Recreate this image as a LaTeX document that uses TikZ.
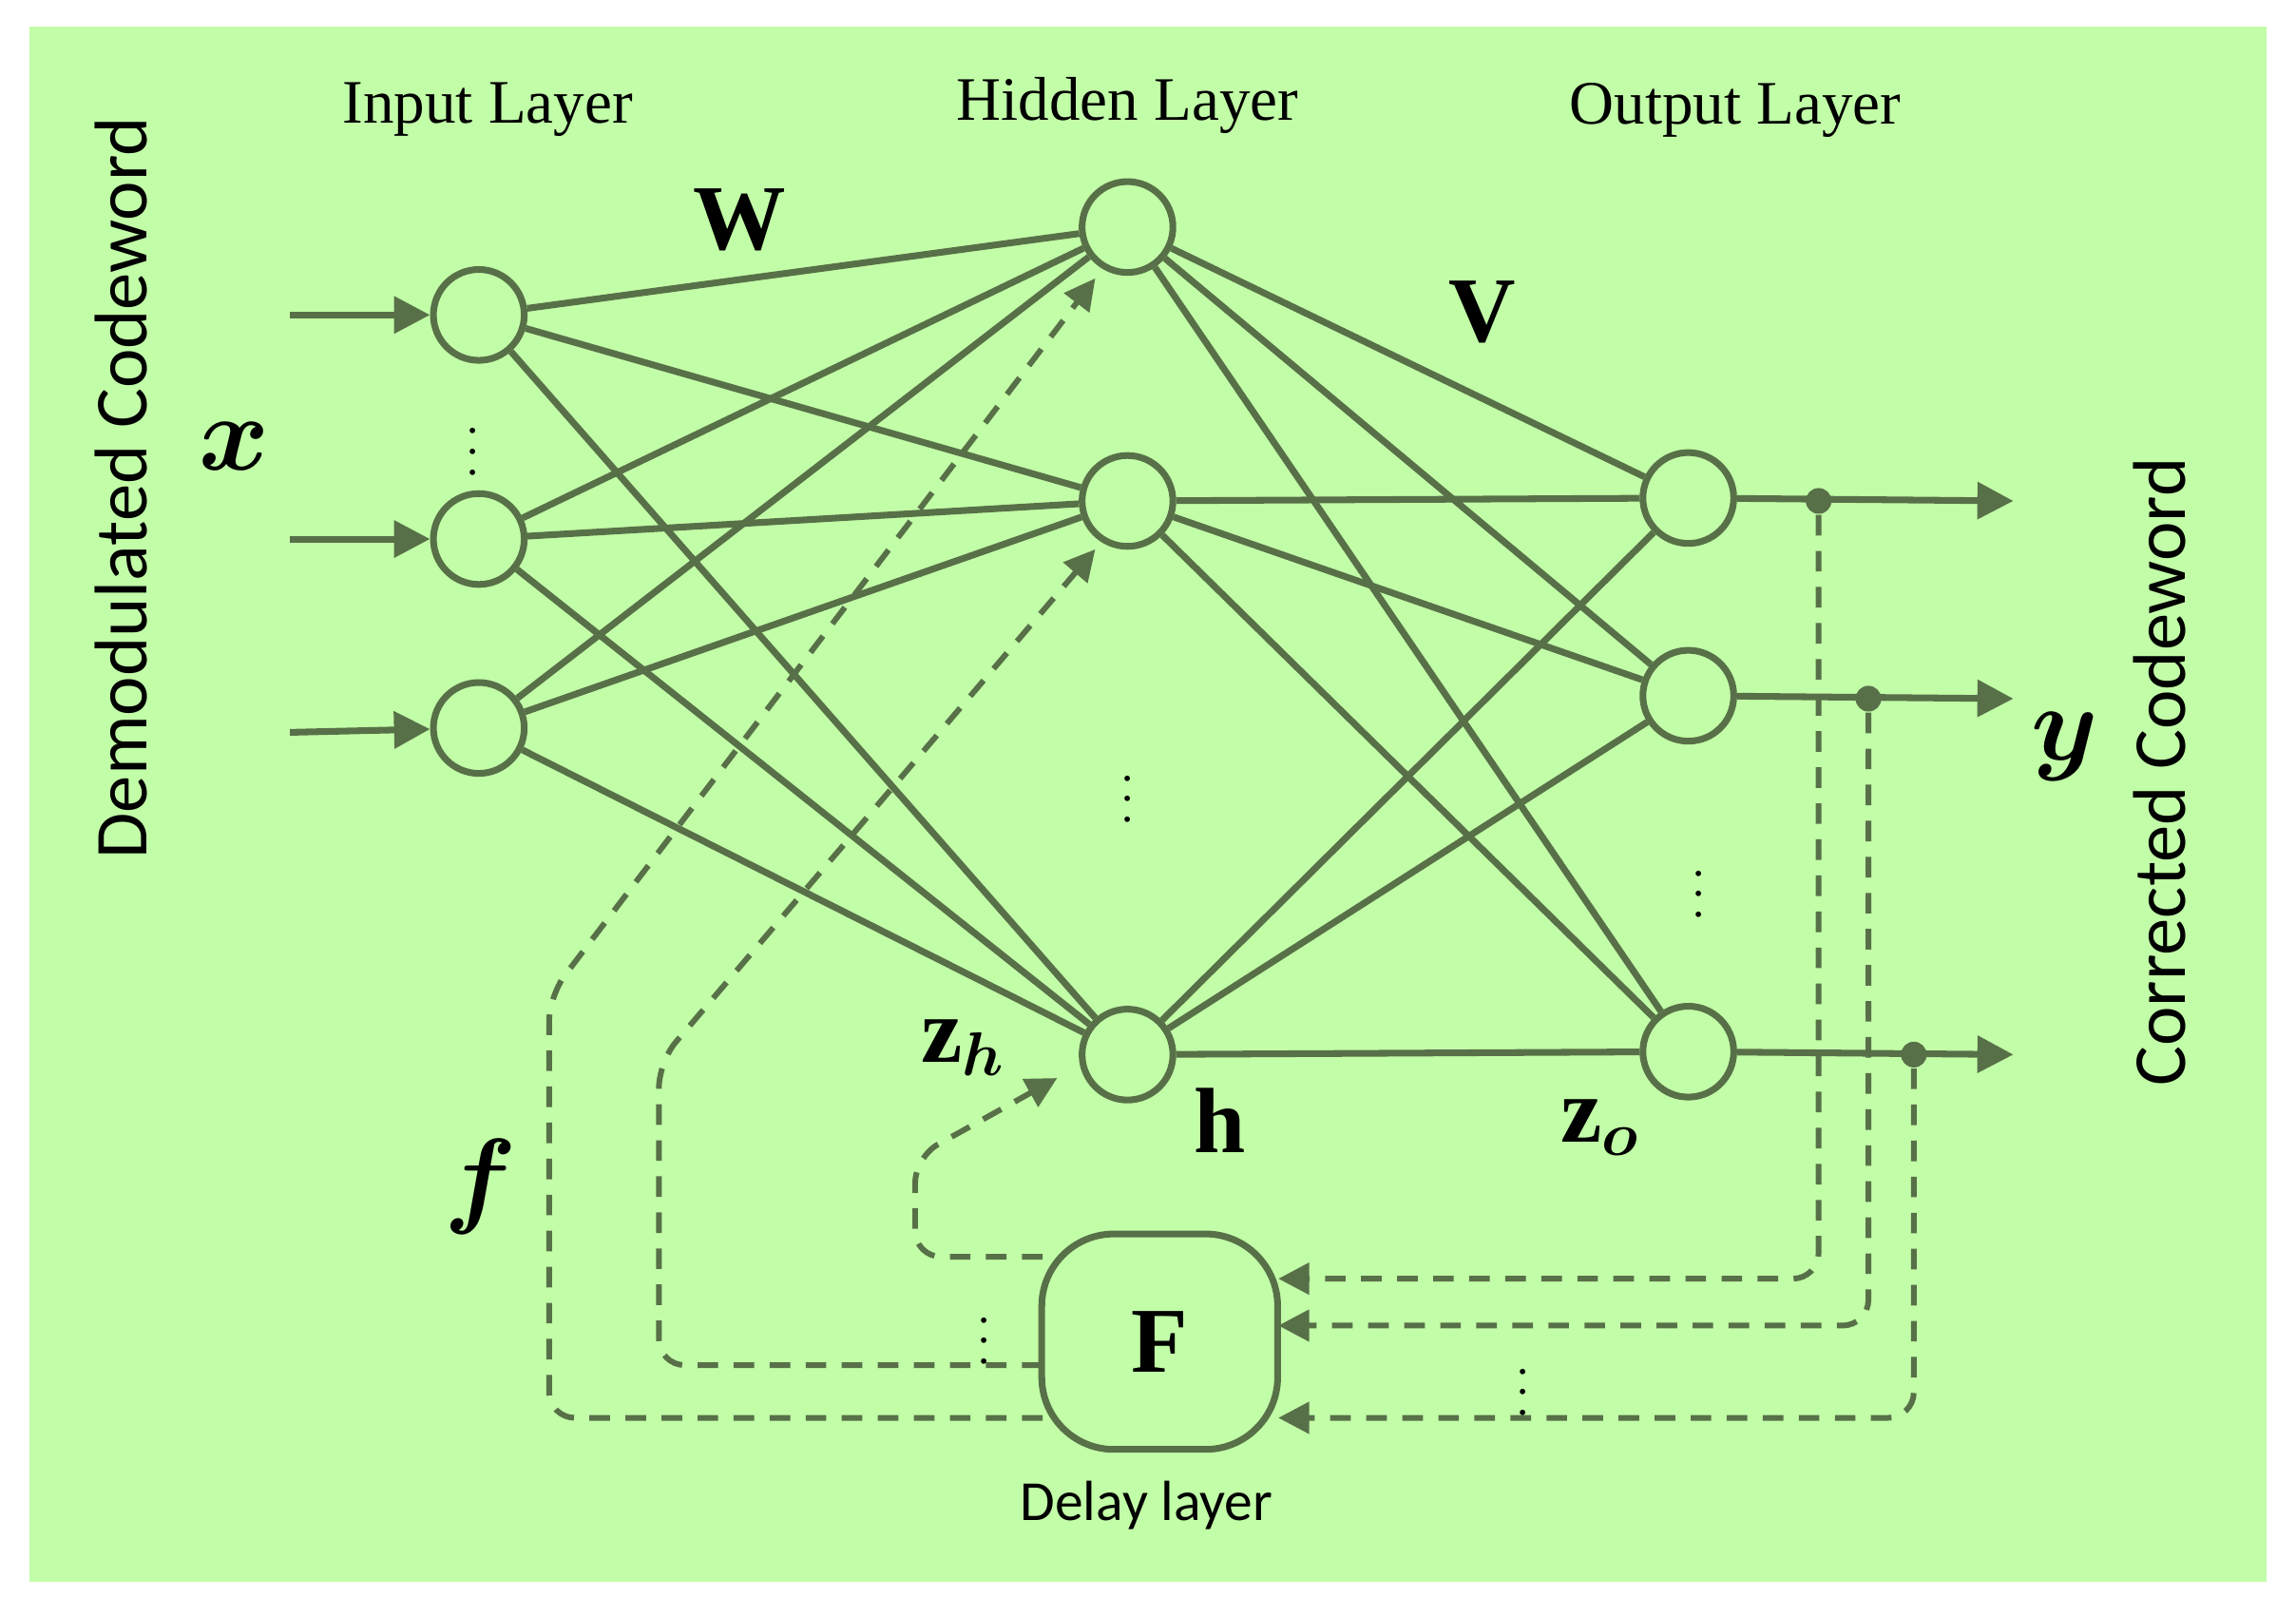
\documentclass[tikz,border=0pt]{standalone}
\usepackage{amsmath,amssymb}
\usepackage{fontspec}
\setmainfont{Liberation Serif}
\newfontfamily\carl{Carlito}
\usetikzlibrary{arrows.meta}
\definecolor{bg}{RGB}{194,253,168}
\definecolor{ln}{RGB}{88,112,72}
\begin{document}
\begin{tikzpicture}[x=0.01cm,y=-0.01cm,
  neu/.style={circle,draw=ln,line width=1.3pt,minimum size=0.62cm,inner sep=0},
  w/.style={draw=ln,line width=1.3pt},
  ar/.style={w,-{Triangle[length=7pt,width=7pt]}},
  da/.style={draw=ln,line width=1.1pt,dashed,dash pattern=on 4pt off 3pt,rounded corners=5pt},
  dar/.style={da,-{Triangle[length=6pt,width=6pt]}},
  dot/.style={circle,fill=ln,inner sep=0,minimum size=5pt},
  ttl/.style={font=\fontsize{12}{13}\selectfont,text=black},
  big/.style={font=\fontsize{18}{19}\selectfont\bfseries,text=black},
  bigm/.style={font=\fontsize{22}{23}\selectfont,text=black},
  vd/.style={font=\fontsize{9}{9}\selectfont,inner sep=0}]
\useasboundingbox (0,0) rectangle (1568,1090);
\fill[bg] (20,18) rectangle (1548,1080);
\node[neu] (i1) at (327,215) {};
\node[neu] (i2) at (327,368) {};
\node[neu] (i3) at (327,497) {};
\node[neu] (h1) at (770,155) {};
\node[neu] (h2) at (770,342) {};
\node[neu] (h3) at (770,720) {};
\node[neu] (o1) at (1153,340) {};
\node[neu] (o2) at (1153,475) {};
\node[neu] (o3) at (1153,718) {};
\foreach \a in {i1,i2,i3}\foreach \b in {h1,h2,h3}\draw[w] (\a) -- (\b);
\foreach \a in {h1,h2,h3}\foreach \b in {o1,o2,o3}\draw[w] (\a) -- (\b);
\coordinate (s1) at (198,215);\coordinate (s2) at (198,368);\coordinate (s3) at (198,500);
\draw[ar] (s1) -- (i1); \draw[ar] (s2) -- (i2); \draw[ar] (s3) -- (i3);
\node[dot] (d1) at (1242,342) {};
\node[dot] (d2) at (1276,477) {};
\node[dot] (d3) at (1307,720) {};
\coordinate (e1) at (1375,342);\coordinate (e2) at (1375,477);\coordinate (e3) at (1375,720);
\draw[ar] (o1) -- (e1); \draw[ar] (o2) -- (e2); \draw[ar] (o3) -- (e3);
\node[draw=ln,line width=1.3pt,rounded corners=14pt,minimum width=1.61cm,minimum height=1.47cm,big] (F) at (792,916) {F};
\draw[dar] (d1) |- (873,873);
\draw[dar] (d2) |- (873,905);
\draw[dar] (d3) |- (873,968);
\draw[dar] (712,858) -- (625,858) -- (625,790) -- (722,736);
\draw[dar] (712,932) -- (450,932) -- (450,725) -- (748,375);
\draw[dar] (712,968) -- (375,968) -- (375,680) -- (748,190);
\node[ttl] (t1) at (333,75) {Input Layer};
\node[ttl] (t2) at (770,72) {Hidden Layer};
\node[ttl] (t3) at (1185,75) {Output Layer};
\node[big] (W) at (505,150) {W};
\node[big] (V) at (1012,213) {V};
\node[big] (h) at (833,765) {h};
\node[big] (zh) at (658,715) {z$_{\boldsymbol{h}}$};
\node[big] (zo) at (1093,770) {z$_{\boldsymbol{o}}$};
\node[bigm] (x) at (160,305) {$\boldsymbol{x}$};
\node[bigm] (y) at (1410,510) {$\boldsymbol{y}$};
\node[bigm] (f) at (328,810) {$\boldsymbol{f}$};
\node[font=\carl\fontsize{11}{12}\selectfont] (dl) at (783,1028) {Delay layer};
\node[font=\carl\fontsize{14.5}{15}\selectfont,rotate=90] (dc) at (83,333) {Demodulated Codeword};
\node[font=\carl\fontsize{14.5}{15}\selectfont,rotate=90] (cc) at (1475,527) {Corrected Codeword};
\foreach \p in {(323,298),(770,535),(1160,600),(672,905),(1040,940)}
  \node[vd] at \p {$\vdots$};
\end{tikzpicture}
\end{document}
